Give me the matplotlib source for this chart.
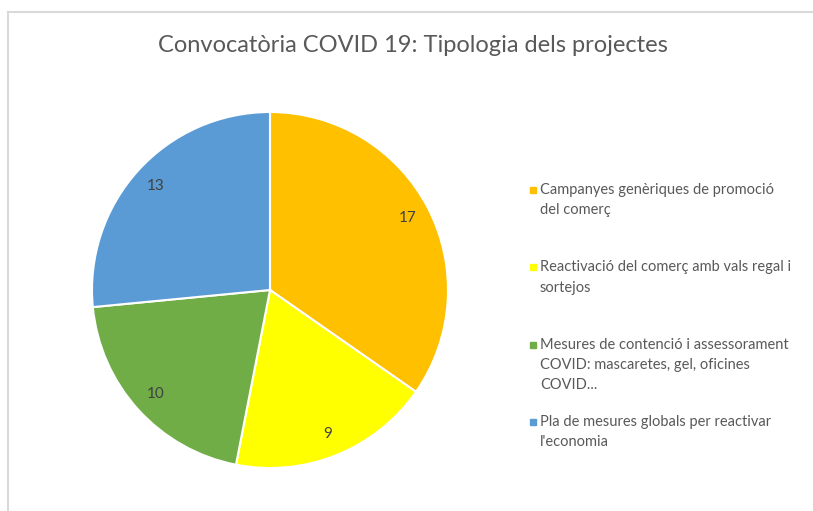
import matplotlib
matplotlib.use("Agg")
import matplotlib.pyplot as plt
from matplotlib.lines import Line2D

categories = [
    "Campanyes genèriques de promoció\ndel comerç",
    "Reactivació del comerç amb vals regal i\nsortejos",
    "Mesures de contenció i assessorament\nCOVID: mascaretes, gel, oficines\nCOVID...",
    "Pla de mesures globals per reactivar\nl'economia",
]
values = [17, 9, 10, 13]
colors = ["#FFC000", "#FFFF00", "#70AD47", "#5B9BD5"]
title = "Convocatòria COVID 19: Tipologia dels projectes"

W, H = 813, 511
fig = plt.figure(figsize=(W / 100, H / 100), dpi=100)
plt.rcParams["font.family"] = ["Lato", "DejaVu Sans"]

# frame (left and top border visible)
fig.add_artist(Line2D([8 / W, 8 / W], [0, 1 - 12 / H], color="#d9d9d9", lw=1.5))
fig.add_artist(Line2D([8 / W, 1], [1 - 12 / H, 1 - 12 / H], color="#d9d9d9", lw=1.5))

cx, cy, r = 270, 290, 178
ax = fig.add_axes([(cx - r) / W, (H - cy - r) / H, 2 * r / W, 2 * r / H])
total = sum(values)
wedges, texts, autotexts = ax.pie(
    values, colors=colors, startangle=90, counterclock=False,
    wedgeprops=dict(edgecolor="white", linewidth=1.5),
    autopct=lambda p: f"{round(p * total / 100)}", pctdistance=0.87,
    textprops=dict(color="#404040", fontsize=11),
)
ax.set_xlim(-1, 1)
ax.set_ylim(-1, 1)

fig.text(413 / W, 1 - 45 / H, title, ha="center", va="center",
         fontsize=17, color="#595959")

# legend
y0 = 190
step = 77.3
line_h = 20.3
for i, (cat, col) in enumerate(zip(categories, colors)):
    y = y0 + i * step
    for k, line in enumerate(cat.split("\n")):
        fig.text(540 / W, 1 - (y + k * line_h) / H, line, ha="left",
                 va="center", fontsize=10.5, color="#595959")
    fig.add_artist(Line2D([533 / W], [1 - y / H], marker="s", markersize=4.5,
                          color=col, linestyle="none"))

fig.savefig("out.png", dpi=100)
